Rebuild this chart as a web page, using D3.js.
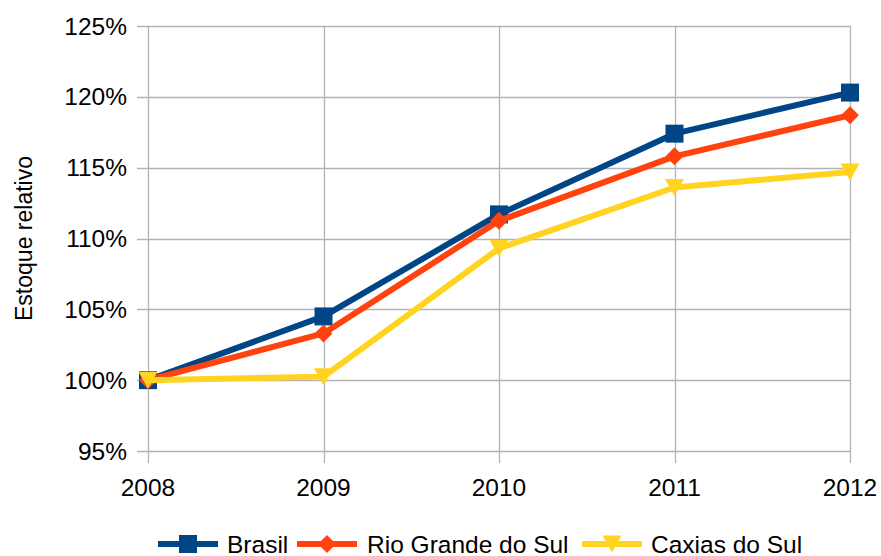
<!DOCTYPE html>
<html>
<head>
<meta charset="utf-8">
<script src="https://cdn.jsdelivr.net/npm/d3@7"></script>
<style>
  body { margin: 0; background: #fff; }
  svg text { font-family: "Liberation Sans", Arial, sans-serif; fill: #000; }
</style>
</head>
<body>
<div id="chart"></div>
<script>
const years = [2008, 2009, 2010, 2011, 2012];
const brasil = [100, 104.5, 111.7, 117.4, 120.3];
const rioGrande = [100, 103.3, 111.25, 115.8, 118.7];
const caxias = [100, 100.25, 109.3, 113.6, 114.7];
const yTicks = [95, 100, 105, 110, 115, 120, 125];

const seriesList = [
  { name: "Brasil", values: brasil, color: "#004586", shape: "square" },
  { name: "Rio Grande do Sul", values: rioGrande, color: "#ff420e", shape: "diamond" },
  { name: "Caxias do Sul", values: caxias, color: "#ffd320", shape: "triangle" }
];

const width = 881, height = 556;
const margin = { top: 26, right: 31, bottom: 105, left: 148 };

const svg = d3.select("#chart").append("svg")
  .attr("width", width)
  .attr("height", height);

const x = d3.scalePoint().domain(years).range([margin.left, width - margin.right]);
const y = d3.scaleLinear().domain([95, 125]).range([height - margin.bottom, margin.top]);

const gridColor = "#b3b3b3";

// horizontal gridlines + left ticks
svg.append("g")
  .selectAll("line")
  .data(yTicks)
  .join("line")
    .attr("x1", margin.left - 11)
    .attr("x2", width - margin.right)
    .attr("y1", d => Math.round(y(d)) + 0.5)
    .attr("y2", d => Math.round(y(d)) + 0.5)
    .attr("stroke", gridColor)
    .attr("stroke-width", 1.3);

// vertical gridlines + bottom ticks
svg.append("g")
  .selectAll("line")
  .data(years)
  .join("line")
    .attr("x1", d => Math.round(x(d)) + 0.5)
    .attr("x2", d => Math.round(x(d)) + 0.5)
    .attr("y1", margin.top)
    .attr("y2", height - margin.bottom + 12)
    .attr("stroke", gridColor)
    .attr("stroke-width", 1.3);

// y tick labels
svg.append("g")
  .selectAll("text")
  .data(yTicks)
  .join("text")
    .attr("x", 127)
    .attr("y", d => y(d) + 8.5)
    .attr("text-anchor", "end")
    .attr("font-size", 24.5)
    .text(d => d + "%");

// x tick labels
svg.append("g")
  .selectAll("text")
  .data(years)
  .join("text")
    .attr("x", d => x(d))
    .attr("y", 496)
    .attr("text-anchor", "middle")
    .attr("font-size", 24.5)
    .text(d => d);

// axis title
svg.append("text")
  .attr("transform", `translate(32,${(margin.top + height - margin.bottom) / 2}) rotate(-90)`)
  .attr("text-anchor", "middle")
  .attr("font-size", 23)
  .text("Estoque relativo");

function markerPath(shape) {
  if (shape === "square") return "M-9,-9H9V9H-9Z";
  if (shape === "diamond") return "M0,-9L9,0L0,9L-9,0Z";
  return "M-9.5,-8.5L9.5,-8.5L0,8.5Z";
}

const line = d3.line()
  .x((d, i) => x(years[i]))
  .y(d => y(d));

seriesList.forEach(s => {
  const g = svg.append("g");
  g.append("path")
    .attr("d", line(s.values))
    .attr("fill", "none")
    .attr("stroke", s.color)
    .attr("stroke-width", 6)
    .attr("stroke-linejoin", "round");
  g.selectAll("path.mark")
    .data(s.values)
    .join("path")
      .attr("class", "mark")
      .attr("transform", (d, i) => `translate(${x(years[i])},${y(d)})`)
      .attr("d", markerPath(s.shape))
      .attr("fill", s.color);
});

// legend
const legendPos = [
  { lx: 158, tx: 227 },
  { lx: 297, tx: 367 },
  { lx: 582, tx: 651 }
];
const legendY = 544;
const legend = svg.append("g")
  .selectAll("g")
  .data(seriesList)
  .join("g");

legend.append("line")
  .attr("x1", (d, i) => legendPos[i].lx)
  .attr("x2", (d, i) => legendPos[i].lx + 60)
  .attr("y1", legendY)
  .attr("y2", legendY)
  .attr("stroke", d => d.color)
  .attr("stroke-width", 6);

legend.append("path")
  .attr("transform", (d, i) => `translate(${legendPos[i].lx + 30},${legendY})`)
  .attr("d", d => markerPath(d.shape))
  .attr("fill", d => d.color);

legend.append("text")
  .attr("x", (d, i) => legendPos[i].tx)
  .attr("y", legendY + 8.5)
  .attr("font-size", 24.5)
  .text(d => d.name);
</script>
</body>
</html>
